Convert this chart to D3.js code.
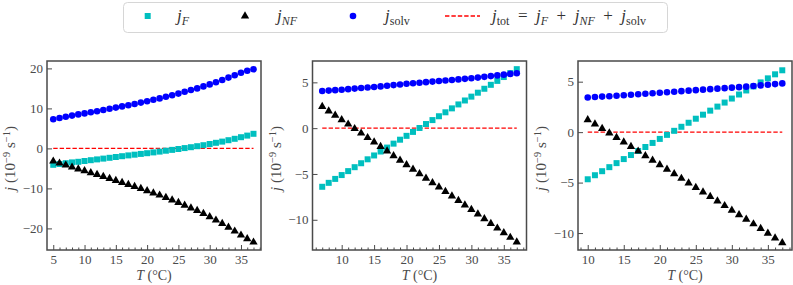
<!DOCTYPE html>
<html><head><meta charset="utf-8">
<script src="https://cdn.jsdelivr.net/npm/d3@7"></script>
<style>body{margin:0;background:#fff} svg{display:block}</style>
</head><body><script>
// ---------- data ----------
const T1 = [5,6,7,8,9,10,11,12,13,14,15,16,17,18,19,20,21,22,23,24,25,26,27,28,29,30,31,32,33,34,35,36,37];
const F1 = [-4.1,-3.9,-3.7,-3.5,-3.35,-3.15,-2.95,-2.75,-2.55,-2.35,-2.15,-1.95,-1.75,-1.57,-1.38,-1.2,-1.0,-0.8,-0.58,-0.37,-0.15,0.08,0.3,0.55,0.8,1.1,1.4,1.7,2.05,2.4,2.8,3.2,3.65];
const NF1 = [-3.2,-3.7,-4.2,-4.7,-5.15,-5.6,-6.1,-6.55,-7.05,-7.55,-8.05,-8.55,-9.05,-9.53,-10.07,-10.6,-11.15,-11.7,-12.32,-12.93,-13.55,-14.23,-14.9,-15.55,-16.3,-17.1,-17.95,-18.8,-19.75,-20.7,-21.7,-22.6,-23.45];
const SOLV1 = [7.3,7.6,7.9,8.2,8.5,8.75,9.05,9.3,9.6,9.9,10.2,10.5,10.8,11.1,11.45,11.8,12.15,12.5,12.9,13.3,13.7,14.15,14.6,15.0,15.5,16.0,16.55,17.1,17.7,18.3,18.9,19.4,19.8];

const T2 = [7,8,9,10,11,12,13,14,15,16,17,18,19,20,21,22,23,24,25,26,27,28,29,30,31,32,33,34,35,36,37];
const F2 = [-6.40,-5.97,-5.54,-5.12,-4.69,-4.26,-3.83,-3.40,-2.98,-2.55,-2.12,-1.69,-1.26,-0.84,-0.41,0.02,0.45,0.88,1.30,1.73,2.16,2.59,3.02,3.44,3.87,4.30,4.73,5.16,5.58,6.01,6.44];
const NF2 = [2.35,1.87,1.39,0.92,0.43,-0.06,-0.55,-1.04,-1.52,-2.01,-2.51,-3.01,-3.51,-4.00,-4.49,-4.98,-5.47,-5.96,-6.44,-6.93,-7.42,-7.91,-8.40,-8.89,-9.39,-9.90,-10.41,-10.92,-11.42,-11.93,-12.44];
const SOLV2 = [4.05,4.10,4.15,4.20,4.26,4.32,4.38,4.44,4.50,4.56,4.63,4.70,4.77,4.84,4.90,4.96,5.02,5.08,5.14,5.20,5.26,5.32,5.38,5.45,5.52,5.60,5.68,5.76,5.84,5.92,6.00];

const T3 = [10,11,12,13,14,15,16,17,18,19,20,21,22,23,24,25,26,27,28,29,30,31,32,33,34,35,36,37];
const F3 = [-4.67,-4.27,-3.87,-3.47,-3.07,-2.67,-2.27,-1.87,-1.47,-1.07,-0.67,-0.27,0.13,0.53,0.93,1.33,1.73,2.13,2.53,2.93,3.33,3.73,4.13,4.53,4.93,5.33,5.73,6.13];
const NF3 = [1.23,0.79,0.35,-0.09,-0.54,-0.99,-1.44,-1.89,-2.34,-2.79,-3.24,-3.69,-4.14,-4.59,-5.04,-5.49,-5.94,-6.39,-6.84,-7.29,-7.74,-8.19,-8.64,-9.10,-9.56,-10.03,-10.49,-10.96];
const SOLV3 = [3.44,3.48,3.52,3.56,3.61,3.66,3.71,3.76,3.81,3.86,3.91,3.96,4.01,4.06,4.11,4.16,4.21,4.26,4.31,4.36,4.41,4.46,4.51,4.57,4.63,4.70,4.76,4.83];

const xTicks1 = [5,10,15,20,25,30,35];
const xTicks2 = [10,15,20,25,30,35];
const xTicks3 = [10,15,20,25,30,35];
const yTicks1 = [-20,-10,0,10,20];
const yTicks2 = [-10,-5,0,5];
const yTicks3 = [-10,-5,0,5];
const xMinor1 = [5,6,7,8,9,10,11,12,13,14,15,16,17,18,19,20,21,22,23,24,25,26,27,28,29,30,31,32,33,34,35,36,37,38];
const xMinor2 = [6,7,8,9,10,11,12,13,14,15,16,17,18,19,20,21,22,23,24,25,26,27,28,29,30,31,32,33,34,35,36,37,38];
const xMinor3 = [9,10,11,12,13,14,15,16,17,18,19,20,21,22,23,24,25,26,27,28,29,30,31,32,33,34,35,36,37,38];

// ---------- layout ----------
const W = 793, H = 285;
const COL_F = "#00bfbf", COL_NF = "#000000", COL_S = "#0000ff", COL_TOT = "#ff0000";
const FRAME = "#4a4a4a", TXT = "#4a4a4a";
const FONT = "'Liberation Serif', 'DejaVu Serif', serif";

const svg = d3.select("body").append("svg").attr("width", W).attr("height", H)
  .style("font-family", FONT);

const panels = [
  {T:T1,F:F1,NF:NF1,S:SOLV1,xt:xTicks1,yt:yTicks1,xm:xMinor1,left:47,xd:[4.0,38.2],yd:[-25.4,21.85]},
  {T:T2,F:F2,NF:NF2,S:SOLV2,xt:xTicks2,yt:yTicks2,xm:xMinor2,left:312.5,xd:[5.5,38.5],yd:[-13.3,7.33]},
  {T:T3,F:F3,NF:NF3,S:SOLV3,xt:xTicks3,yt:yTicks3,xm:xMinor3,left:578,xd:[8.65,38.35],yd:[-11.68,7.05]}
];
const PW = 214, TOP = 61, BOT = 250;

const fmt = v => (v < 0 ? "\u2212" + Math.abs(v) : String(v));

panels.forEach(p => {
  const x = d3.scaleLinear().domain(p.xd).range([p.left, p.left + PW]);
  const y = d3.scaleLinear().domain(p.yd).range([BOT, TOP]);
  const g = svg.append("g");

  g.append("line")
    .attr("x1", x(p.T[0])).attr("x2", x(p.T[p.T.length-1]))
    .attr("y1", y(0)).attr("y2", y(0))
    .attr("stroke", COL_TOT).attr("stroke-width", 1.3).attr("stroke-dasharray", "4.4,2");

  const idx = p.T.map((_, i) => i);
  g.selectAll(".sq").data(idx).join("path")
    .attr("d", d3.symbol(d3.symbolSquare, 36)())
    .attr("transform", i => `translate(${x(p.T[i])},${y(p.F[i])})`)
    .attr("fill", COL_F);
  g.selectAll(".tr").data(idx).join("path")
    .attr("d", d3.symbol(d3.symbolTriangle, 30)())
    .attr("transform", i => `translate(${x(p.T[i])},${y(p.NF[i])})`)
    .attr("fill", COL_NF);
  g.selectAll(".ci").data(idx).join("circle")
    .attr("cx", i => x(p.T[i])).attr("cy", i => y(p.S[i])).attr("r", 3.3)
    .attr("fill", COL_S);

  const xAxis = d3.axisBottom(x).tickValues(p.xt).tickSize(-5).tickPadding(5).tickFormat(fmt);
  const xMinor = d3.axisBottom(x).tickValues(p.xm.filter(v => !p.xt.includes(v) && v > p.xd[0] && v < p.xd[1])).tickSize(-2.5).tickFormat("");
  const yAxis = d3.axisLeft(y).tickValues(p.yt).tickSize(-5).tickPadding(4).tickFormat(fmt);

  const gx = g.append("g").attr("transform", `translate(0,${BOT})`).call(xAxis);
  const gxm = g.append("g").attr("transform", `translate(0,${BOT})`).call(xMinor);
  const gy = g.append("g").attr("transform", `translate(${p.left},0)`).call(yAxis);
  [gx, gxm, gy].forEach(a => {
    a.attr("font-family", FONT);
    a.select(".domain").remove();
    a.selectAll(".tick line").attr("stroke", FRAME).attr("stroke-width", 1);
    a.selectAll(".tick text").attr("fill", TXT).style("font-family", FONT).style("font-size", "13px");
  });

  g.append("rect").attr("x", p.left).attr("y", TOP).attr("width", PW).attr("height", BOT - TOP)
    .attr("fill", "none").attr("stroke", FRAME).attr("stroke-width", 1.5);

  const xl = g.append("text").attr("x", p.left + PW/2).attr("y", 280).attr("text-anchor", "middle")
    .attr("fill", TXT).style("font-size", "14px");
  xl.append("tspan").attr("font-style", "italic").text("T");
  xl.append("tspan").text(" (\u00B0C)");

  const cx = p.left - 32, cy = (TOP + BOT) / 2 + 3;
  const yl = g.append("text").attr("transform", `translate(${cx},${cy}) rotate(-90)`)
    .attr("text-anchor", "middle").attr("fill", TXT).style("font-size", "15px");
  yl.append("tspan").attr("font-style", "italic").text("j");
  yl.append("tspan").text(" (10");
  yl.append("tspan").attr("dy", -5).style("font-size", "10.5px").text("\u22129");
  yl.append("tspan").attr("dy", 5).text(" s");
  yl.append("tspan").attr("dy", -5).style("font-size", "10.5px").text("\u22121");
  yl.append("tspan").attr("dy", 5).text(")");
});

// ---------- legend ----------
const lg = svg.append("g");
lg.append("rect").attr("x", 123.5).attr("y", 2.5).attr("width", 544).attr("height", 30).attr("rx", 4)
  .attr("fill", "#fff").attr("stroke", "#d6d6d6").attr("stroke-width", 1);
const LY = 16;
lg.append("path").attr("d", d3.symbol(d3.symbolSquare, 36)()).attr("transform", `translate(147.7,${LY})`).attr("fill", COL_F);
lg.append("path").attr("d", d3.symbol(d3.symbolTriangle, 30)()).attr("transform", `translate(245,${LY})`).attr("fill", COL_NF);
lg.append("circle").attr("cx", 353).attr("cy", LY).attr("r", 3.3).attr("fill", COL_S);
lg.append("line").attr("x1", 445).attr("x2", 480).attr("y1", LY).attr("y2", LY)
  .attr("stroke", COL_TOT).attr("stroke-width", 1.3).attr("stroke-dasharray", "4.4,2");

function jlabel(x0, parts) {
  const t = lg.append("text").attr("x", x0).attr("y", LY + 5).attr("fill", "#333").style("font-size", "17px");
  parts.forEach(pt => {
    const s = t.append("tspan").text(pt.t);
    if (pt.i) s.attr("font-style", "italic");
    if (pt.sub) s.attr("dy", 3.5).style("font-size", "12px");
    if (pt.up) s.attr("dy", -3.5);
  });
}
jlabel(177, [{t:"j",i:1},{t:"F",i:1,sub:1}]);
jlabel(277, [{t:"j",i:1},{t:"NF",i:1,sub:1}]);
jlabel(385, [{t:"j",i:1},{t:"solv",sub:1}]);
const OP1 = "\u2002=\u2002", OP2 = "\u2002+\u2002";
jlabel(492, [{t:"j",i:1},{t:"tot",sub:1},{t:OP1,up:1},{t:"j",i:1},{t:"F",i:1,sub:1},{t:OP2,up:1},{t:"j",i:1},{t:"NF",i:1,sub:1},{t:OP2,up:1},{t:"j",i:1},{t:"solv",sub:1}]);
</script></body></html>
